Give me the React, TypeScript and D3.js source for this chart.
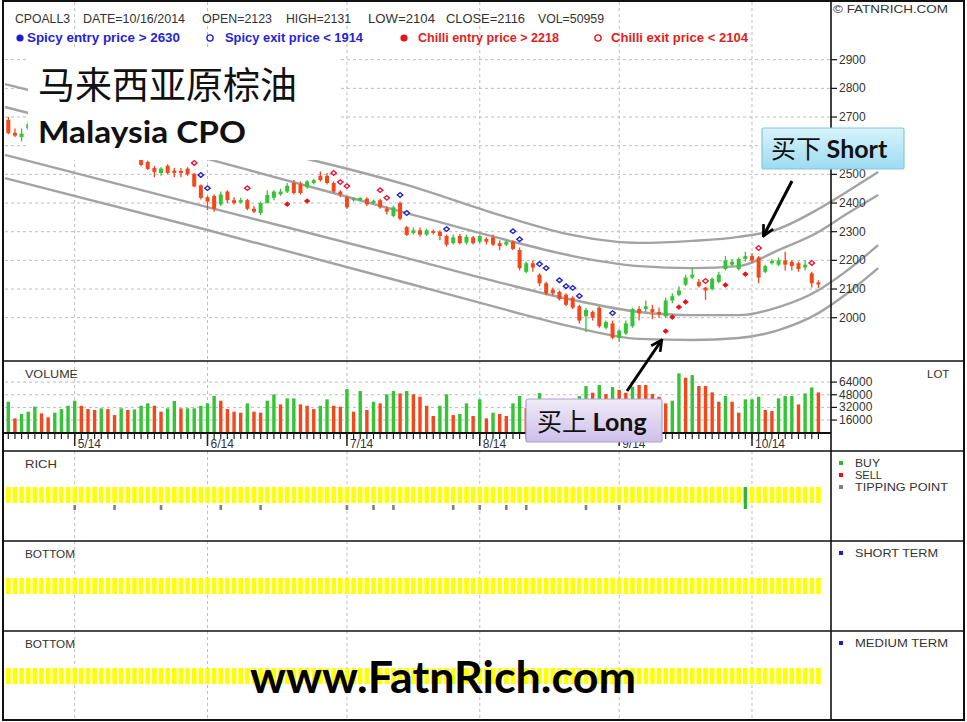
import * as d3 from 'd3'
import React from 'react'

const SANS = "'Liberation Sans', Arial, sans-serif"
const CJK = "'Noto Sans CJK SC', sans-serif"
const HEAVY = "Lato, 'Open Sans', sans-serif"

const GREEN = '#35c435'
const RED = '#f4471a'
const BLUE_TXT = '#2424d6'
const RED_TXT = '#e01e1e'
const GRID = '#bdbdbd'

// month ticks (bar index of first trading day)
const monthLabels = ['5/14', '6/14', '7/14', '8/14', '9/14', '10/14']
const monthStarts = [10, 30, 51, 71, 92, 112]

// daily OHLC, 123 sessions ending 10/16/2014
const opens = [
  2690, 2645, 2630, 2660, 2672, 2660, 2645, 2652, 2632, 2620,
  2640, 2615, 2600, 2610, 2590, 2580, 2595, 2585, 2575, 2580,
  2550, 2543, 2522, 2505, 2530, 2513, 2512, 2520, 2502, 2462,
  2420, 2425, 2395, 2440, 2410, 2402, 2410, 2380, 2365, 2400,
  2418, 2430, 2440, 2470, 2465, 2455, 2470, 2495, 2495, 2470,
  2440, 2420, 2410, 2410, 2415, 2400, 2410, 2380, 2355, 2400,
  2316, 2295, 2305, 2290, 2302, 2300, 2285, 2260, 2285, 2262,
  2280, 2265, 2275, 2280, 2260, 2255, 2265, 2236, 2160, 2190,
  2150, 2120, 2098, 2090, 2080, 2070, 2040, 2005, 2020, 2035,
  1965, 1980, 1930, 1945, 1970, 2030, 2030, 2030, 2020, 2005,
  2060, 2080, 2115, 2140, 2125, 2105, 2100, 2125, 2170, 2185,
  2170, 2205, 2215, 2210, 2160, 2190, 2185, 2200, 2195, 2190,
  2175, 2155, 2123,
]
const highs = [
  2700, 2660, 2660, 2685, 2690, 2668, 2662, 2660, 2640, 2648,
  2645, 2622, 2618, 2615, 2598, 2600, 2600, 2590, 2588, 2585,
  2555, 2548, 2530, 2525, 2535, 2522, 2522, 2525, 2505, 2465,
  2425, 2430, 2440, 2445, 2420, 2418, 2415, 2390, 2405, 2445,
  2445, 2450, 2470, 2480, 2475, 2480, 2485, 2510, 2505, 2475,
  2445, 2425, 2420, 2420, 2420, 2412, 2415, 2388, 2390, 2405,
  2320, 2315, 2315, 2310, 2308, 2305, 2290, 2290, 2292, 2290,
  2285, 2290, 2280, 2290, 2270, 2270, 2270, 2245, 2195, 2200,
  2155, 2125, 2105, 2095, 2085, 2075, 2045, 2035, 2025, 2040,
  1990, 1990, 1960, 1990, 2035, 2040, 2060, 2045, 2035, 2070,
  2085, 2110, 2150, 2175, 2135, 2108, 2140, 2160, 2215, 2205,
  2210, 2230, 2225, 2215, 2185, 2205, 2210, 2230, 2200, 2195,
  2200, 2160, 2131,
]
const lows = [
  2640, 2630, 2615, 2655, 2650, 2638, 2640, 2625, 2612, 2615,
  2608, 2595, 2592, 2585, 2575, 2572, 2580, 2568, 2568, 2560,
  2528, 2515, 2490, 2495, 2500, 2490, 2490, 2495, 2455, 2412,
  2375, 2370, 2390, 2400, 2395, 2398, 2375, 2365, 2358, 2398,
  2410, 2425, 2435, 2430, 2430, 2450, 2465, 2475, 2465, 2435,
  2420, 2380, 2405, 2408, 2390, 2395, 2380, 2360, 2350, 2340,
  2285, 2290, 2282, 2285, 2290, 2270, 2248, 2255, 2255, 2255,
  2255, 2260, 2255, 2250, 2235, 2250, 2235, 2165, 2155, 2160,
  2110, 2078, 2078, 2060, 2040, 2030, 1980, 1950, 1990, 1965,
  1960, 1925, 1915, 1940, 1965, 1990, 2020, 1995, 2000, 2000,
  2050, 2075, 2110, 2135, 2105, 2062, 2095, 2120, 2165, 2180,
  2165, 2195, 2190, 2120, 2155, 2185, 2180, 2165, 2165, 2160,
  2165, 2105, 2104,
]
const closes = [
  2644, 2635, 2642, 2675, 2658, 2645, 2655, 2632, 2620, 2640,
  2615, 2600, 2612, 2590, 2580, 2595, 2585, 2575, 2582, 2565,
  2533, 2519, 2508, 2520, 2505, 2505, 2505, 2500, 2458, 2418,
  2405, 2380, 2430, 2410, 2400, 2410, 2380, 2370, 2400, 2428,
  2440, 2440, 2460, 2435, 2435, 2475, 2480, 2480, 2470, 2440,
  2430, 2385, 2415, 2418, 2395, 2408, 2385, 2370, 2385, 2345,
  2289, 2305, 2290, 2305, 2296, 2285, 2255, 2280, 2260, 2282,
  2260, 2285, 2265, 2255, 2250, 2265, 2240, 2173, 2190, 2175,
  2120, 2085, 2085, 2065, 2045, 2035, 1990, 2027, 2000, 1970,
  1985, 1930, 1955, 1980, 2030, 2015, 2040, 2020, 2012, 2060,
  2075, 2095, 2140, 2150, 2110, 2095, 2135, 2150, 2200, 2195,
  2205, 2215, 2200, 2140, 2180, 2198, 2200, 2185, 2180, 2170,
  2185, 2120, 2116,
]

const volumes = [
  39200, 18100, 23600, 26600, 32900, 24500, 19400, 25300, 29900, 34100,
  40500, 34100, 29900, 28700, 30800, 29900, 22300, 30800, 28700, 29500,
  34100, 37100, 34100, 26600, 30800, 40100, 30800, 30800, 30800, 34100,
  37100, 46400, 40500, 29900, 26600, 25300, 37100, 26600, 25300, 40500,
  48500, 35800, 43400, 43400, 35800, 34100, 29900, 34100, 42200, 34100,
  32900, 55200, 26600, 52700, 28700, 39200, 37100, 48500, 52700, 49700,
  52700, 48500, 45500, 34100, 21100, 34100, 48500, 22300, 23600, 37100,
  21100, 42200, 18100, 25300, 23600, 21100, 37100, 46400, 31200, 30000,
  50200, 36000, 33000, 38000, 35000, 40000, 46400, 59000, 50600, 60300,
  48900, 57700, 54000, 50600, 58200, 60300, 60300, 48900, 45500, 37100,
  40500, 75000, 69600, 72900, 59000, 59000, 51000, 39200, 46400, 39200,
  25300, 42200, 42200, 45500, 28700, 27400, 43400, 46400, 46400, 35800,
  49700, 57300, 50959,
]
// 1 = green bar, 0 = red bar
const volumeUp = [
  1, 0, 1, 1, 1, 0, 0, 1, 1, 1,
  1, 0, 0, 0, 1, 0, 0, 1, 0, 1,
  1, 1, 0, 0, 1, 1, 0, 1, 1, 1,
  1, 1, 0, 0, 0, 0, 1, 0, 0, 1,
  1, 0, 1, 1, 0, 0, 0, 1, 1, 0,
  0, 1, 0, 1, 0, 1, 0, 1, 1, 0,
  1, 0, 0, 0, 0, 1, 1, 0, 1, 1,
  0, 1, 0, 1, 0, 0, 1, 1, 0, 1,
  1, 0, 0, 1, 0, 1, 1, 1, 0, 1,
  0, 1, 0, 0, 1, 0, 0, 0, 0, 0,
  1, 1, 0, 1, 0, 0, 0, 0, 1, 0,
  0, 1, 1, 1, 0, 0, 1, 1, 1, 0,
  1, 1, 0,
]

// channel curves, price at sample bar positions
const bandIdx = [-0.5, 30, 60, 75, 85, 95, 103, 110, 116, 122, 126, 131]
const bandA = [2815, 2637, 2463, 2351, 2288, 2261, 2268, 2282, 2310, 2379, 2435, 2508]
const bandB = [2735, 2554, 2365, 2271, 2215, 2180, 2173, 2180, 2236, 2299, 2358, 2428]
const bandC = [2568, 2386, 2208, 2117, 2062, 2020, 2009, 2009, 2037, 2096, 2159, 2253]
const bandD = [2487, 2306, 2121, 2027, 1968, 1926, 1922, 1929, 1957, 2016, 2079, 2173]

// signals
const chilliExitIdx = [28, 36, 49, 50, 51, 56, 57, 105, 113, 121]
const chilliExitPrice = [2540, 2452, 2505, 2473, 2459, 2445, 2418, 2128, 2243, 2191]
const spicyExitIdx = [29, 30, 59, 60, 66, 76, 77, 80, 81, 83, 84, 85, 86, 91]
const spicyExitPrice = [2498, 2452, 2428, 2365, 2309, 2302, 2274, 2187, 2173, 2131, 2110, 2104, 2076, 2016]
const chilliEntryIdx = [42, 45, 99, 100, 101, 102, 108, 111]
const chilliEntryPrice = [2396, 2407, 1953, 2002, 2037, 2055, 2114, 2152]
const tippingIdx = [10, 16, 23, 32, 38, 51, 55, 58, 67, 71, 75, 78, 87, 92]
const buyIdx = [111]

const priceTicks = [2000, 2100, 2200, 2300, 2400, 2500, 2600, 2700, 2800, 2900]
const volumeTicks = [16000, 32000, 48000, 64000]

const PLOT_L = 5
const PLOT_R = 831
const PANEL_Y = [361, 451, 541, 631]
const VOL_BASE = 433
const SHORT_BOX = { x: 762, y: 128, w: 142, h: 41 }
const LONG_BOX = { x: 526, y: 399, w: 136, h: 43 }

type TProps = {
  x: number
  y: number
  w?: number
  size?: number
  fill?: string
  weight?: string | number
  family?: string
  anchor?: 'start' | 'middle' | 'end'
  children: React.ReactNode
}

const T = ({ x, y, w, size = 11, fill = '#333', weight = 'normal', family = SANS, anchor = 'start', children }: TProps) => (
  <text
    x={x}
    y={y}
    fontSize={size}
    fill={fill}
    fontWeight={weight}
    fontFamily={family}
    textAnchor={anchor}
    textLength={w}
    lengthAdjust={w ? 'spacingAndGlyphs' : undefined}
  >
    {children}
  </text>
)

export default function App() {
  const x = d3.scaleLinear().domain([0, 122]).range([8.3, 818.4])
  const y = d3.scaleLinear().domain([2000, 2900]).range([317.7, 59.7])
  const v = d3.scaleLinear().domain([0, 64000]).range([432.7, 382.1])

  const bandLine = d3
    .line<number>()
    .x((_, k) => x(bandIdx[k]))
    .y((p) => y(p))
    .curve(d3.curveMonotoneX)

  // small squashed diamond used for all signal dots
  const dot = d3.symbol().type(d3.symbolSquare).size(15)() as string
  const dotAt = (i: number, p: number) => `translate(${x(i)},${y(p)}) scale(1,0.85) rotate(45)`
  const bars = d3.range(opens.length)

  const vGridSpans: [number, number][] = [
    [2, 361],
    [361, VOL_BASE],
    [451, 541],
    [541, 631],
    [631, 719],
  ]
  const yellowTops = [487, 578, 668]
  // the Short call-out sits over part of the price axis
  const labelHidden = (py: number) => py > SHORT_BOX.y - 4 && py < SHORT_BOX.y + SHORT_BOX.h + 4

  return (
    <svg
      width={967}
      height={722}
      style={{ position: 'fixed', left: 0, top: 0, background: '#fff' }}
    >
      <defs>
        <linearGradient id="shortFill" x1="0" y1="0" x2="0" y2="1">
          <stop offset="0" stopColor="#d8f3fc" />
          <stop offset="1" stopColor="#9ddbf1" />
        </linearGradient>
        <linearGradient id="longFill" x1="0" y1="0" x2="0" y2="1">
          <stop offset="0" stopColor="#f0ebf8" />
          <stop offset="1" stopColor="#cdbfea" />
        </linearGradient>
        <marker id="arrowHead" viewBox="0 0 10 10" refX="8" refY="5" markerWidth="4.5" markerHeight="4.5" orient="auto">
          <path d="M1,1 L9,5 L1,9" fill="none" stroke="#000" strokeWidth={2} />
        </marker>
      </defs>

      <rect x={0} y={0} width={967} height={722} fill="#fff" />

      {/* grid */}
      {vGridSpans.map(([a, b], k) =>
        monthStarts.map((m) => (
          <line key={`vg${k}-${m}`} x1={x(m)} x2={x(m)} y1={a} y2={b} stroke={GRID} strokeDasharray="3,3" />
        ))
      )}
      {priceTicks.map((p) => (
        <line key={`pg${p}`} x1={PLOT_L} x2={PLOT_R} y1={y(p)} y2={y(p)} stroke={GRID} strokeDasharray="3,3" />
      ))}
      {volumeTicks.map((t) => (
        <line key={`vgr${t}`} x1={PLOT_L} x2={PLOT_R} y1={v(t)} y2={v(t)} stroke={GRID} strokeDasharray="3,3" />
      ))}

      {/* channel */}
      {[bandA, bandB, bandC, bandD].map((b, k) => (
        <path key={`band${k}`} d={bandLine(b) as string} fill="none" stroke="#a3a3a3" strokeWidth={2.4} />
      ))}

      {/* candles */}
      {bars.map((i) => {
        const o = opens[i]
        const c = closes[i]
        const col = c >= o ? GREEN : RED
        const top = y(Math.max(o, c))
        const bot = y(Math.min(o, c))
        return (
          <g key={`c${i}`}>
            <line x1={x(i)} x2={x(i)} y1={y(highs[i])} y2={y(lows[i])} stroke={col} strokeWidth={1.3} />
            <rect x={x(i) - 2} y={top} width={4} height={Math.max(1.5, bot - top)} fill={col} />
          </g>
        )
      })}

      {/* signal markers */}
      {chilliExitIdx.map((i, k) => (
        <path key={`ce${i}`} d={dot} transform={dotAt(i, chilliExitPrice[k])} fill="#fff" stroke="#e8173a" strokeWidth={1.5} />
      ))}
      {spicyExitIdx.map((i, k) => (
        <path key={`se${i}`} d={dot} transform={dotAt(i, spicyExitPrice[k])} fill="#fff" stroke="#2222d0" strokeWidth={1.5} />
      ))}
      {chilliEntryIdx.map((i, k) => (
        <path key={`cn${i}`} d={dot} transform={dotAt(i, chilliEntryPrice[k])} fill="#e41414" stroke="#e41414" strokeWidth={0.8} />
      ))}

      {/* volume */}
      {bars.map((i) => (
        <rect
          key={`v${i}`}
          x={x(i) - 1.7}
          y={v(volumes[i])}
          width={3.4}
          height={v(0) - v(volumes[i])}
          fill={volumeUp[i] ? GREEN : RED}
        />
      ))}
      <line x1={4} x2={PLOT_R} y1={VOL_BASE} y2={VOL_BASE} stroke="#111" strokeWidth={2} />
      {bars.map((i) => (
        <line key={`xt${i}`} x1={x(i)} x2={x(i)} y1={VOL_BASE} y2={439} stroke="#222" strokeWidth={1.2} />
      ))}
      {monthStarts.map((m, k) => (
        <g key={`ml${m}`}>
          <line x1={x(m)} x2={x(m)} y1={VOL_BASE} y2={446} stroke="#222" strokeWidth={1.5} />
          <T x={x(m) + 3} y={448} size={12}>
            {monthLabels[k]}
          </T>
        </g>
      ))}

      {/* indicator strips */}
      {yellowTops.map((t) =>
        bars.map((i) => <rect key={`yl${t}-${i}`} x={x(i) - 2.3} y={t} width={4.6} height={16} fill="#ffff00" />)
      )}
      {tippingIdx.map((i) => (
        <rect key={`tp${i}`} x={x(i) - 1.3} y={505} width={2.6} height={5} fill="#808080" />
      ))}
      {buyIdx.map((i) => (
        <rect key={`buy${i}`} x={x(i) - 1.6} y={487} width={3.2} height={22} fill="#2fb52f" />
      ))}

      {/* title box */}
      <rect x={28} y={49} width={312} height={111} fill="#fff" />
      <T x={38} y={99} size={37} fill="#111" family={CJK}>
        马来西亚原棕油
      </T>
      <T x={38} y={143} size={31} w={208} fill="#111" weight={700} family={HEAVY}>
        Malaysia CPO
      </T>

      {/* frame */}
      <rect x={3} y={1} width={961} height={719} fill="none" stroke="#111" strokeWidth={2} />
      {PANEL_Y.map((py) => (
        <line key={`pl${py}`} x1={3} x2={964} y1={py} y2={py} stroke="#111" strokeWidth={1.6} />
      ))}
      <line x1={PLOT_R} x2={PLOT_R} y1={1} y2={720} stroke="#111" strokeWidth={1.6} />

      {/* right axes */}
      {priceTicks.map((p) => (
        <g key={`pt${p}`}>
          <line x1={PLOT_R} x2={837} y1={y(p)} y2={y(p)} stroke="#111" strokeWidth={1.2} />
          {!labelHidden(y(p)) && (
            <T x={839} y={y(p) + 4} size={12}>
              {p}
            </T>
          )}
        </g>
      ))}
      {volumeTicks.map((t) => (
        <g key={`vt${t}`}>
          <line x1={PLOT_R} x2={837} y1={v(t)} y2={v(t)} stroke="#111" strokeWidth={1.2} />
          <T x={839} y={v(t) + 4} size={12}>
            {t}
          </T>
        </g>
      ))}
      <T x={927} y={378} size={11.5}>
        LOT
      </T>
      <T x={833} y={13} size={11} w={115}>
        © FATNRICH.COM
      </T>

      {/* header */}
      <T x={15} y={23} size={12} w={55}>CPOALL3</T>
      <T x={83} y={23} size={12} w={102}>DATE=10/16/2014</T>
      <T x={202} y={23} size={12} w={70}>OPEN=2123</T>
      <T x={286} y={23} size={12} w={65}>HIGH=2131</T>
      <T x={368} y={23} size={12} w={67}>LOW=2104</T>
      <T x={446} y={23} size={12} w={79}>CLOSE=2116</T>
      <T x={538} y={23} size={12} w={66}>VOL=50959</T>

      <circle cx={20} cy={38} r={3.6} fill="#1c1cd8" />
      <T x={27} y={42} size={12} w={153} weight={700} fill={BLUE_TXT}>Spicy entry price &gt; 2630</T>
      <circle cx={210} cy={38} r={3.1} fill="#fff" stroke="#1c1cd8" strokeWidth={1.3} />
      <T x={225} y={42} size={12} w={138} weight={700} fill={BLUE_TXT}>Spicy exit price &lt; 1914</T>
      <circle cx={404} cy={38} r={3.6} fill="#e41414" />
      <T x={418} y={42} size={12} w={141} weight={700} fill={RED_TXT}>Chilli entry price &gt; 2218</T>
      <circle cx={598} cy={38} r={3.1} fill="#fff" stroke="#e41414" strokeWidth={1.3} />
      <T x={611} y={42} size={12} w={137} weight={700} fill={RED_TXT}>Chilli exit price &lt; 2104</T>

      {/* panel labels */}
      <T x={25} y={378} size={11} w={53}>VOLUME</T>
      <T x={25} y={468} size={11} w={32}>RICH</T>
      <T x={25} y={558} size={11} w={50}>BOTTOM</T>
      <T x={25} y={648} size={11} w={50}>BOTTOM</T>

      <rect x={839} y={461} width={4} height={4} fill="#2fb52f" />
      <T x={855} y={467} size={11} w={25}>BUY</T>
      <rect x={839} y={473} width={4} height={4} fill="#e41414" />
      <T x={855} y={479} size={11} w={27}>SELL</T>
      <rect x={839} y={485} width={4} height={4} fill="#808080" />
      <T x={855} y={491} size={11} w={93}>TIPPING POINT</T>
      <rect x={839} y={551} width={4} height={4} fill="#1c1cd8" />
      <T x={855} y={557} size={11} w={83}>SHORT TERM</T>
      <rect x={839} y={641} width={4} height={4} fill="#1c1cd8" />
      <T x={855} y={647} size={11} w={93}>MEDIUM TERM</T>

      {/* annotations */}
      <line x1={792} y1={181} x2={764} y2={235} stroke="#000" strokeWidth={3} markerEnd="url(#arrowHead)" />
      <rect x={SHORT_BOX.x} y={SHORT_BOX.y} width={SHORT_BOX.w} height={SHORT_BOX.h} rx={2} fill="url(#shortFill)" stroke="#86c6dd" strokeWidth={1.2} />
      <text x={771} y={158} fontSize={25} fill="#111">
        <tspan fontFamily={CJK}>买下 </tspan>
        <tspan fontFamily={HEAVY} fontWeight={700}>Short</tspan>
      </text>

      <line x1={627} y1={391} x2={661} y2={341} stroke="#000" strokeWidth={3} markerEnd="url(#arrowHead)" />
      <rect x={LONG_BOX.x} y={LONG_BOX.y} width={LONG_BOX.w} height={LONG_BOX.h} rx={2} fill="url(#longFill)" stroke="#ad9fcf" strokeWidth={1.2} />
      <text x={537} y={431} fontSize={25} fill="#111">
        <tspan fontFamily={CJK}>买上 </tspan>
        <tspan fontFamily={HEAVY} fontWeight={700}>Long</tspan>
      </text>

      <T x={443} y={693} size={43} w={386} anchor="middle" fill="#000" weight={700} family={HEAVY}>
        www.FatnRich.com
      </T>
    </svg>
  )
}
